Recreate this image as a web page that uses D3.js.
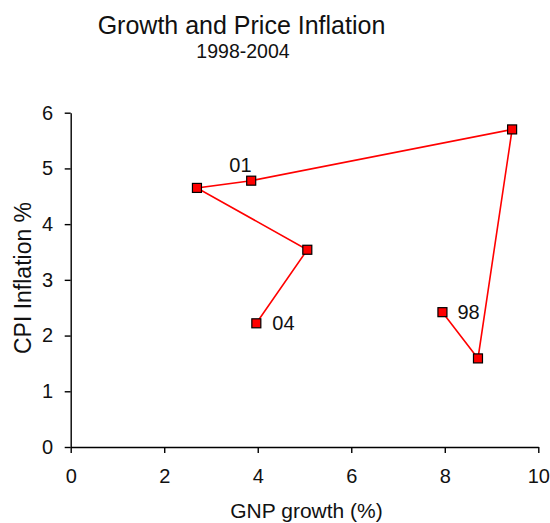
<!DOCTYPE html>
<html>
<head>
<meta charset="utf-8">
<script src="https://cdn.jsdelivr.net/npm/d3@7"></script>
<style>
  html, body { margin: 0; padding: 0; background: #fff; }
  svg { display: block; font-family: "Liberation Sans", Arial, sans-serif; }
</style>
</head>
<body>
<svg id="chart" width="550" height="523"></svg>
<script>
// ---- data ----
const years = ["98", "99", "00", "01", "02", "03", "04"];
const gnpGrowth = [7.95, 8.71, 9.44, 3.86, 2.70, 5.06, 3.97];
const cpiInflation = [2.42, 1.59, 5.70, 4.78, 4.65, 3.54, 2.22];
const labeledYears = ["98", "01", "04"];
const xTicks = [0, 2, 4, 6, 8, 10];
const yTicks = [0, 1, 2, 3, 4, 5, 6];

const svg = d3.select("#chart");
const x = d3.scaleLinear().domain([0, 10]).range([70.7, 538.3]);
const y = d3.scaleLinear().domain([0, 6]).range([447, 112.7]);

const points = years.map((yr, i) => ({ yr, gx: gnpGrowth[i], cpi: cpiInflation[i] }));

// axes
const xAxis = svg.append("g").attr("transform", `translate(0,${y(0)})`)
  .call(d3.axisBottom(x).tickValues(xTicks).tickFormat(d3.format("d")).tickSize(6).tickSizeOuter(0).tickPadding(16));
const yAxis = svg.append("g").attr("transform", `translate(${x(0)},0)`)
  .call(d3.axisLeft(y).tickValues(yTicks).tickFormat(d3.format("d")).tickSize(6).tickSizeOuter(0).tickPadding(11.5));
[xAxis, yAxis].forEach(g => {
  g.attr("font-family", null).attr("font-size", null);
  g.selectAll("path.domain").attr("stroke", "#000").attr("stroke-width", 1.4);
  g.selectAll(".tick line").attr("stroke", "#000").attr("stroke-width", 1.4);
  g.selectAll(".tick text").attr("fill", "#111").style("font-size", "20px");
});

// line
const line = d3.line().x(d => x(d.gx)).y(d => y(d.cpi));
svg.append("path").datum(points)
  .attr("d", line).attr("fill", "none").attr("stroke", "#ff0000").attr("stroke-width", 1.6);

// markers
svg.selectAll("rect.pt").data(points).enter().append("rect")
  .attr("class", "pt")
  .attr("x", d => x(d.gx) - 4.5).attr("y", d => y(d.cpi) - 4.5)
  .attr("width", 9).attr("height", 9)
  .attr("fill", "#ff0000").attr("stroke", "#000").attr("stroke-width", 1.2);

// point labels
const labelPlacement = { "98": [15, 7.3, "start"], "01": [0.4, -8.6, "end"], "04": [16, 6.7, "start"] };
svg.selectAll("text.lbl").data(points.filter(d => labeledYears.includes(d.yr))).enter().append("text")
  .attr("class", "lbl")
  .attr("x", d => x(d.gx) + labelPlacement[d.yr][0])
  .attr("y", d => y(d.cpi) + labelPlacement[d.yr][1])
  .attr("text-anchor", d => labelPlacement[d.yr][2])
  .style("font-size", "20px").attr("fill", "#111")
  .text(d => d.yr);

// titles
svg.append("text").attr("x", 241.5).attr("y", 34).attr("text-anchor", "middle")
  .style("font-size", "25px").attr("fill", "#111").text("Growth and Price Inflation");
svg.append("text").attr("x", 243).attr("y", 58.3).attr("text-anchor", "middle")
  .style("font-size", "19.5px").attr("fill", "#111").text("1998-2004");
svg.append("text").attr("x", 306.5).attr("y", 518).attr("text-anchor", "middle")
  .style("font-size", "21px").attr("fill", "#111").text("GNP growth (%)");
svg.append("text").attr("transform", "translate(31,278) rotate(-90)").attr("text-anchor", "middle")
  .style("font-size", "23px").attr("fill", "#111").text("CPI Inflation %");
</script>
</body>
</html>
